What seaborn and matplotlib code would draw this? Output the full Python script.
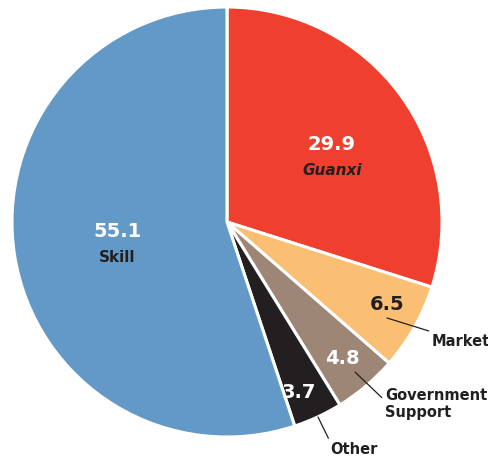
import numpy as np
import matplotlib
matplotlib.use("Agg")
import matplotlib.pyplot as plt
import seaborn as sns

# Shares (%) of what matters most for getting ahead
categories = ["Guanxi", "Market", "Government\nSupport", "Other", "Skill"]
values = [29.9, 6.5, 4.8, 3.7, 55.1]
value_labels = ["29.9", "6.5", "4.8", "3.7", "55.1"]
colors = ["#ef3f2f", "#fbbf74", "#9e8677", "#231f20", "#6399c6"]

sns.set_theme(style="white")
plt.rcParams["font.family"] = ["DejaVu Sans"]

W, H, DPI = 488, 458, 100
fig = plt.figure(figsize=(W / DPI, H / DPI), dpi=DPI)
ax = fig.add_axes([0, 0, 1, 1])

wedges, _ = ax.pie(values, colors=colors, startangle=90, counterclock=False,
                   radius=1.0,
                   wedgeprops=dict(edgecolor="white", linewidth=2.2))

# pixel-based frame: pie centre at (227, 222), radius 215 px
CX, CY, R = 227, 222, 215
ax.set_xlim(-CX / R, (W - CX) / R)
ax.set_ylim(-(H - CY) / R, CY / R)
ax.set_aspect("equal")
ax.axis("off")


def mid_angle(w):
    return np.deg2rad((w.theta1 + w.theta2) / 2)


def polar(w, frac, dang=0.0):
    a = mid_angle(w) + np.deg2rad(dang)
    return frac * np.cos(a), frac * np.sin(a)


def px(x, y):
    return (x - CX) / R, (CY - y) / R


dark = "#231f20"
num_kw = dict(ha="center", va="center", fontsize=14, fontweight="bold")

# Guanxi
x, y = polar(wedges[0], 0.58, -3.5)
ax.text(x, y + 0.045, value_labels[0], color="white", **num_kw)
ax.text(x, y - 0.075, categories[0], color=dark, ha="center", va="center",
        fontsize=11, fontweight="bold", fontstyle="italic")

# Skill
x, y = polar(wedges[4], 0.52, 2.0)
ax.text(x, y + 0.055, value_labels[4], color="white", **num_kw)
ax.text(x, y - 0.065, categories[4], color=dark, ha="center", va="center",
        fontsize=11, fontweight="bold")

# Small slices: value inside, name outside with a leader line
x, y = polar(wedges[1], 0.84, 2.0)
ax.text(x, y, value_labels[1], color=dark, **num_kw)
ax.annotate(categories[1], xy=px(387, 318), xytext=px(432, 341),
            ha="left", va="center", fontsize=10.5, fontweight="bold", color=dark,
            arrowprops=dict(arrowstyle="-", color=dark, lw=0.9,
                            shrinkA=0, shrinkB=0))

x, y = polar(wedges[2], 0.83, 0.0)
ax.text(x, y, value_labels[2], color="white", **num_kw)
ax.annotate(categories[2], xy=px(355, 372), xytext=px(385, 404),
            ha="left", va="center", fontsize=10.5, fontweight="bold", color=dark,
            linespacing=1.25,
            arrowprops=dict(arrowstyle="-", color=dark, lw=0.9,
                            shrinkA=0, shrinkB=0, relpos=(0, 0.6)))

x, y = polar(wedges[3], 0.86, -2.0)
ax.text(x, y, value_labels[3], color="white", **num_kw)
ax.annotate(categories[3], xy=px(318, 417), xytext=px(330, 449),
            ha="left", va="center", fontsize=10.5, fontweight="bold", color=dark,
            arrowprops=dict(arrowstyle="-", color=dark, lw=0.9,
                            shrinkA=0, shrinkB=0, relpos=(0, 1)))

fig.savefig("out.png", dpi=DPI, facecolor="white")
